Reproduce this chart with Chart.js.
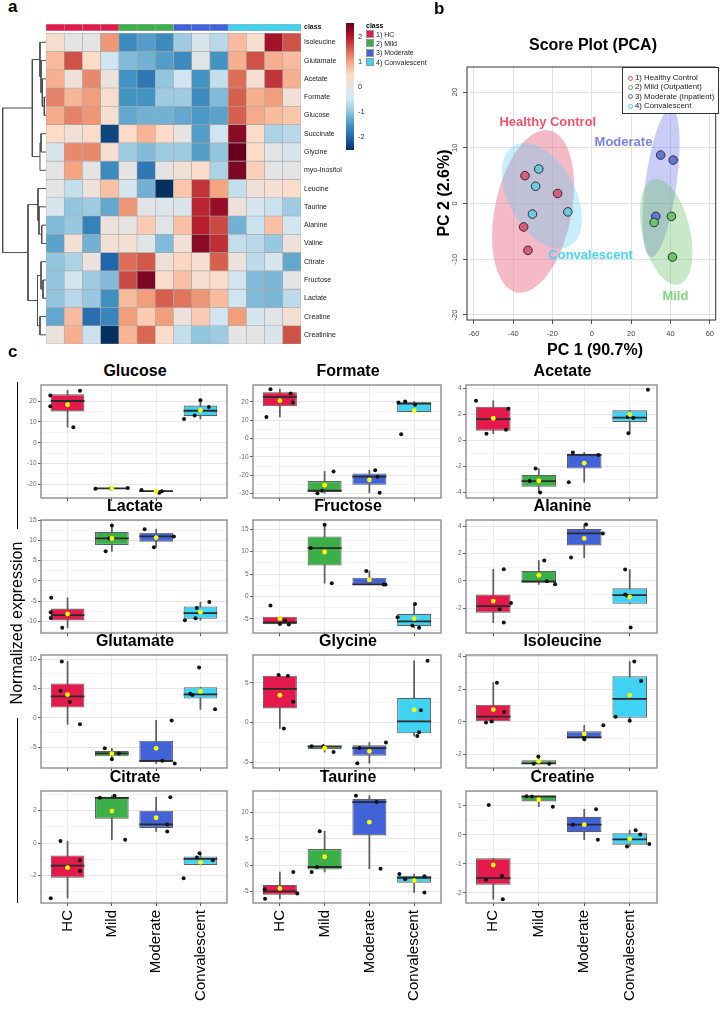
<!DOCTYPE html>
<html lang="en">
<head>
<meta charset="UTF-8">
<title>Metabolite profiles</title>
<script src="https://cdn.jsdelivr.net/npm/chart.js"></script>
<style>
  body { margin: 0; background: #fff; font-family: "Liberation Sans", Arial, sans-serif; }
  #page { position: relative; width: 721px; height: 1009px; overflow: hidden; background: #fff; }
  canvas { position: absolute; }
  .txt { position: absolute; white-space: nowrap; color: #000; }
  .panelTitle { position: absolute; width: 200px; text-align: center; font-weight: bold; font-size: 16px; line-height: 16px; }
  .sw { position: absolute; width: 8px; height: 8px; box-sizing: border-box; border: 1px solid #9a9a9a; }
  .dot { position: absolute; width: 5px; height: 5px; box-sizing: border-box; border-radius: 50%; border: 1px solid; }
</style>
</head>
<body>
<div id="page"></div>

<script>
// ---------- heatmap (a) ----------
const heatRows = ['Isoleucine', 'Glutamate', 'Acetate', 'Formate', 'Glucose', 'Succinate', 'Glycine',
  'myo-Inositol', 'Leucine', 'Taurine', 'Alanine', 'Valine', 'Citrate', 'Fructose', 'Lactate', 'Creatine', 'Creatinine'];
// class of every sample column: 0 HC, 1 Mild, 2 Moderate, 3 Convalescent
const heatClass = [0, 0, 0, 0, 1, 1, 1, 2, 2, 2, 3, 3, 3, 3];
const heatValues = [
  [0.4, 0, 0, 1.1, -1.6, -1.4, -1.6, -0.9, -0.3, -0.7, 0.8, 0.35, 2.1, 1.6],
  [0.8, 1.6, 0.5, -0.5, -1.1, -1.2, -1.4, -1.6, -0.1, -1.5, 0.9, 1.6, 0.9, 0.8],
  [0.9, 0.2, 1.2, 0.15, -1.5, -1.8, -1.0, -0.5, -1.5, -0.6, 1.4, 0.35, 1.8, 0.9],
  [1.25, 0.85, 1.05, 0.4, -1.5, -1.5, -0.9, -0.9, -1.6, -1.1, 1.5, 0.9, 1.05, 0.25],
  [0.95, 1.25, 1.1, 0.35, -1.3, -1.2, -1.2, -1.3, -1.45, -1.35, 1.5, 0.95, 0.8, 0.7],
  [0.5, 0.25, 0.45, -2.3, 0.5, 0.85, 0.5, 0.05, -1.4, -0.5, 2.3, 0.45, -0.8, -0.7],
  [-0.3, 1.2, 1.2, 0.35, -0.9, -1.1, -0.9, -0.9, -1.4, -1.0, 2.55, 0.5, -0.1, -0.35],
  [0, 1.0, 0, -1.6, 0, -1.8, 0, 0.25, 0.45, -0.8, 2.4, 0.6, 0, 0],
  [0, -0.6, 0.15, 0.75, -0.35, -1.2, -2.5, 0.7, 1.8, 1.0, -0.6, 0.2, 0.3, 0.4],
  [-0.3, -1.0, -0.9, -1.3, 1.1, 0, -0.25, -0.3, 1.9, 2.2, 0.15, -0.35, -0.55, -0.9],
  [-1.1, -0.95, -1.7, 0.15, 0.05, 0.65, -0.1, 0.75, 1.95, 1.65, -1.2, -0.55, 0.75, -0.45],
  [-1.35, 0.3, -1.2, 0.3, 0.3, -0.1, -1.1, 0.25, 2.3, 1.85, -0.6, -0.7, -0.95, 0.15],
  [-1.0, -0.8, 0.15, -2.0, 1.4, 1.55, 0.2, 0.55, 0.35, 1.5, 0.15, -0.65, -0.35, -1.3],
  [-1.0, -0.45, -0.9, -1.1, 1.65, 2.4, 0.45, 0.75, 0.35, 0.4, -0.45, -1.1, -1.15, -0.05],
  [-1.0, -0.7, -0.95, -1.55, 0.8, 1.05, 1.5, 1.35, 1.1, 0.8, -0.5, -1.1, -1.15, -0.65],
  [-1.3, 0.8, -1.9, -1.65, 1.05, 0.65, 1.05, 0.15, 0.65, -0.5, 1.05, -0.45, -0.1, 0.3],
  [0.15, 0.9, -0.55, -2.5, 0.85, 1.45, 0.45, -0.6, -1.0, -0.9, 0, 0, -0.3, 1.6]
];
// row clustering, hclust style: negative = row number, positive = earlier merge
const dendroMerges = [
  [-4, -5, 0.39], [-3, 1, 0.85], [-2, 2, 1.15], [-1, 3, 1.39], [-6, -7, 1.15], [-8, 5, 1.39],
  [4, 6, 3.16], [-11, -12, 0.99], [-10, 8, 1.62], [-9, 9, 1.85], [-14, -15, 0.69], [-13, 11, 1.15],
  [-16, -17, 1.39], [12, 13, 1.96], [10, 14, 4.16], [7, 15, 10]
];
const colourStops = [[-2.5, '#053061'], [-2, '#2166AC'], [-1.5, '#4393C3'], [-1, '#92C5DE'], [-0.5, '#D1E5F0'],
  [0, '#E4E4E4'], [0.5, '#FDDBC7'], [1, '#F4A582'], [1.5, '#D6604D'], [2, '#B2182B'], [2.55, '#67001F']];
const colourTicks = [-2, -1, 0, 1, 2];

// ---------- PCA score plot (b) ----------
const pcaNames = ['1) Healthy Control', '2) Mild (Outpatient)', '3) Moderate (Inpatient)', '4) Convalescent'];
const pcaHC = [[-34, 5.0], [-17.4, 1.8], [-34.7, -4.2], [-32.5, -8.4]];
const pcaMild = [[40.5, -2.3], [31.7, -3.4], [41, -9.6]];
const pcaModerate = [[35, 8.7], [41.4, 7.8], [32.5, -2.3]];
const pcaConv = [[-27, 6.2], [-28.6, 3.1], [-30.2, -1.9], [-12.2, -1.5]];
// ellipses: centre, conjugate half-diameters (score units)
const pcaEllipses = [
  { c: [-29.9, -1.4], u: [6.5, 14.6], v: [19.8, 0], fill: 'rgba(235,110,140,0.48)' },
  { c: [-25.4, 1.4], u: [-8.8, 9.5], v: [18.4, 0], fill: 'rgba(100,208,240,0.36)' },
  { c: [35.2, 3.75], u: [5.0, 13.4], v: [8.0, 0], fill: 'rgba(110,120,235,0.38)' },
  { c: [37.8, -5.1], u: [-5.0, 9.5], v: [12.4, 0], fill: 'rgba(110,195,110,0.38)' }
];
const pcaTags = [
  { text: 'Healthy Control', at: [-22.4, 14.5], color: '#F4546C' },
  { text: 'Moderate', at: [16.1, 10.9], color: '#7B7FF2' },
  { text: 'Convalescent', at: [-0.65, -9.4], color: '#48D4F2' },
  { text: 'Mild', at: [42.5, -16.6], color: '#7DD67D' }
];
const pcaXTicks = [-60, -40, -20, 0, 20, 40, 60];
const pcaYTicks = [-20, -10, 0, 10, 20];

// ---------- box plots (c) ----------
const groupNames = ['HC', 'Mild', 'Moderate', 'Convalescent'];
const groupColors = ['#E31A4B', '#3CAF49', '#4162D8', '#3FD2F2'];
const boxTitles = ['Glucose', 'Formate', 'Acetate', 'Lactate', 'Fructose', 'Alanine',
  'Glutamate', 'Glycine', 'Isoleucine', 'Citrate', 'Taurine', 'Creatine'];
const whiskerLow = [
  [7.5, -22.2, -24.1, 11.4], [11.8, -29.8, -29.6, 14.4], [0.5, -4.03, -3.23, 0.53],
  [-11.6, 7.3, 8.3, -9.76], [-6.25, 2.97, 2.68, -7.0], [-3.06, -0.26, 1.7, -1.68],
  [-1.1, -7.05, -7.78, 1.44], [-0.73, -3.7, -5.1, -1.68], [-0.04, -2.58, -1.08, 0.06],
  [-3.4, 0.2, 0.71, -1.35], [-6.4, -1.3, -0.7, -5.2], [-2.22, 0.97, -0.17, -0.4]
];
const boxQ1 = [
  [15.1, -22.1, -23.6, 12.8], [17.6, -29.1, -25.2, 14.4], [0.73, -3.59, -2.18, 1.41],
  [-9.8, 8.9, 9.65, -9.4], [-6.2, 6.9, 2.68, -6.63], [-2.33, -0.15, 2.59, -1.68],
  [1.75, -6.55, -7.56, 3.29], [1.79, -3.34, -4.15, -1.34], [0.0, -2.58, -1.02, 0.24],
  [-2.14, 1.5, 0.93, -1.35], [-5.65, -0.83, 5.65, -3.33], [-1.72, 1.15, 0.09, -0.34]
];
const boxMedian = [
  [20.1, -22.0, -23.3, 15.4], [22.7, -28.4, -20.8, 19.0], [1.62, -3.15, -1.13, 1.74],
  [-8.48, 10.5, 11.0, -7.99], [-5.78, 10.8, 2.68, -5.57], [-1.85, -0.04, 3.47, -1.05],
  [3.65, -6.06, -7.33, 4.0], [4.25, -2.97, -3.2, 0.17], [0.31, -2.56, -0.96, 1.4],
  [-1.4, 2.79, 1.15, -0.98], [-5.0, -0.35, 12.0, -2.4], [-1.49, 1.32, 0.35, -0.16]
];
const boxQ3 = [
  [23.3, -21.9, -23.0, 17.9], [25.3, -23.2, -19.05, 19.75], [2.58, -2.67, -1.04, 2.3],
  [-6.86, 12.1, 11.9, -6.34], [-4.54, 13.4, 4.19, -3.89], [-1.0, 0.72, 3.8, -0.55],
  [5.85, -5.63, -3.89, 5.21], [5.9, -2.97, -2.85, 3.12], [1.05, -2.36, -0.59, 2.8],
  [-0.77, 2.85, 1.99, -0.83], [-3.78, 3.05, 12.6, -2.0], [-0.81, 1.33, 0.62, 0.05]
];
const whiskerHigh = [
  [25.2, -21.8, -22.7, 20.5], [26.9, -17.9, -17.3, 20.2], [3.03, -2.18, -0.95, 2.3],
  [-4.2, 13.7, 12.8, -5.26], [-4.54, 16.0, 5.7, -1.68], [0.84, 1.49, 4.12, 0.82],
  [9.6, -5.2, -0.45, 5.21], [6.0, -2.97, -2.5, 7.78], [2.4, -2.14, -0.22, 3.7],
  [0.12, 2.91, 2.83, -0.63], [-1.3, 6.45, 13.2, -1.7], [-0.81, 1.33, 0.88, 0.16]
];
const groupMean = [
  [18.3, -22.0, -23.4, 15.6], [20.7, -25.4, -22.6, 15.2], [1.69, -3.12, -1.77, 1.97],
  [-8.19, 10.5, 10.7, -7.75], [-4.96, 9.92, 3.69, -4.95], [-1.48, 0.4, 3.1, -1.18],
  [3.95, -6.1, -5.19, 4.5], [3.44, -3.21, -3.6, 1.61], [0.75, -2.43, -0.75, 1.64],
  [-1.52, 1.97, 1.56, -1.19], [-4.43, 1.6, 8.17, -2.93], [-1.04, 1.21, 0.35, -0.14]
];
// sample points: [horizontal jitter in group widths, value]
const samplePoints = [
  [[[-0.39, 22.8], [-0.39, 17.6], [0.28, 25.0], [0.13, 7.5]], [[-0.37, -22.1], [0.36, -21.8], [-0.02, -22.0]],
   [[-0.33, -22.7], [0.07, -24.1], [0.13, -23.4]], [[-0.37, 11.4], [-0.13, 13.1], [0.0, 20.5], [0.19, 17.2]]],
  [[[-0.21, 26.9], [-0.30, 11.8], [0.24, 24.5], [0.29, 19.6]], [[-0.16, -29.8], [-0.06, -28.4], [0.2, -17.9]],
   [[0.13, -17.3], [0.18, -20.8], [0.23, -29.6]], [[-0.35, 19.6], [-0.2, 20.2], [0.02, 18.4], [-0.29, 2.4]]],
  [[[-0.38, 3.03], [0.33, 2.43], [-0.15, 0.5], [0.28, 0.8]], [[-0.07, -2.18], [-0.2, -3.15], [0.03, -4.03]],
   [[-0.25, -0.95], [0.31, -1.13], [-0.34, -3.23]], [[-0.04, 1.78], [0.08, 1.7], [-0.03, 0.53], [0.4, 3.88]]],
  [[[-0.37, -4.2], [-0.38, -7.75], [-0.38, -9.2], [-0.12, -11.6]], [[0.0, 13.7], [-0.14, 7.3], [-0.06, 10.5]],
   [[-0.26, 12.8], [-0.05, 8.3], [0.4, 11.0]], [[-0.35, -9.76], [-0.08, -6.7], [-0.11, -9.28], [0.2, -5.26]]],
  [[[-0.21, -2.05], [0.0, -6.18], [0.12, -5.37], [0.2, -6.25]], [[0.0, 16.0], [-0.31, 10.8], [0.16, 2.97]],
   [[-0.07, 5.7], [0.32, 2.68], [0.36, 2.68]], [[0.02, -1.68], [-0.37, -4.63], [-0.04, -6.5], [0.11, -7.0]]],
  [[[0.23, 0.84], [0.39, -1.62], [0.14, -2.08], [0.23, -3.06]], [[0.12, 1.49], [0.18, -0.04], [0.36, -0.26]],
   [[0.04, 4.12], [0.41, 3.47], [-0.29, 1.7]], [[-0.1, 0.82], [-0.1, -1.0], [-0.05, -1.1], [0.02, -3.42]]],
  [[[-0.13, 9.6], [-0.16, 4.6], [0.05, 2.7], [0.28, -1.1]], [[-0.16, -5.2], [0.16, -6.06], [0.0, -7.05]],
   [[0.35, -0.45], [0.14, -7.33], [0.42, -7.78]], [[-0.23, 4.1], [-0.18, 3.9], [-0.03, 8.55], [0.33, 1.44]]],
  [[[-0.03, 6.0], [0.18, 5.87], [0.3, 2.63], [0.09, -0.73]], [[-0.29, -2.97], [-0.03, -2.97], [0.2, -3.7]],
   [[0.37, -2.5], [-0.22, -3.2], [-0.27, -5.1]], [[0.3, 7.78], [0.15, 1.56], [0.11, -1.22], [0.07, -1.68]]],
  [[[0.08, 2.4], [0.24, 0.6], [-0.04, 0.02], [-0.16, -0.04]], [[-0.01, -2.14], [-0.11, -2.58], [0.23, -2.58]],
   [[0.42, -0.22], [0.0, -0.96], [0.0, -1.08]], [[0.1, 3.7], [0.25, 2.5], [-0.31, 0.3], [0.0, 0.06]]],
  [[[-0.16, 0.12], [0.28, -1.07], [0.28, -1.72], [-0.38, -3.4]], [[-0.27, 2.79], [0.06, 2.91], [0.3, 0.2]],
   [[0.32, 2.83], [0.25, 1.15], [0.25, 0.71]], [[-0.02, -0.63], [-0.08, -0.89], [0.28, -1.07], [-0.38, -2.18]]],
  [[[-0.34, -4.6], [-0.33, -6.4], [0.39, -5.4], [0.3, -1.3]], [[-0.11, 6.45], [-0.17, -0.35], [-0.29, -1.3]],
   [[-0.3, 13.2], [0.16, 12.0], [0.25, -0.7]], [[-0.33, -1.7], [-0.2, -2.7], [0.23, -2.1], [0.23, -5.2]]],
  [[[-0.1, 1.03], [-0.16, -1.55], [0.19, -1.42], [0.21, -2.22]], [[-0.27, 1.33], [-0.15, 1.32], [0.31, 0.97]],
   [[0.26, 0.88], [-0.25, 0.35], [0.3, -0.17]], [[0.13, 0.16], [0.23, 0.01], [0.43, -0.32], [-0.06, -0.4]]]
];
const yLimits = [[-26.6, 27.8], [-32.4, 29.2], [-4.45, 4.25], [-12.9, 15.06], [-8.17, 17.07], [-3.82, 4.45],
  [-8.55, 10.7], [-5.7, 8.5], [-2.84, 4.1], [-3.7, 3.21], [-7.2, 14.1], [-2.35, 1.51]];
const yMajor = [10, 10, 2, 5, 5, 2, 5, 5, 2, 2, 5, 1];

// ---------- layout ----------
const FONT = '"Liberation Sans", Arial, sans-serif';
const panelColLeft = [41, 253, 466];
const panelColWidth = [188, 190, 193];
const panelRowTop = [382, 517, 652, 788];
const panelRowHeight = [116, 116, 116, 115];
const boxWidthFrac = 0.76;

Chart.defaults.font.family = FONT;
Chart.defaults.animation = false;
Chart.defaults.responsive = false;
Chart.defaults.events = [];
Chart.defaults.plugins.legend.display = false;
Chart.defaults.plugins.tooltip.enabled = false;

const page = document.getElementById('page');

function makeCanvas(left, top, width, height) {
  const c = document.createElement('canvas');
  c.width = width;
  c.height = height;
  c.style.left = left + 'px';
  c.style.top = top + 'px';
  c.style.width = width + 'px';
  c.style.height = height + 'px';
  page.appendChild(c);
  return c;
}

function addText(text, left, top, css) {
  const d = document.createElement('div');
  d.className = 'txt';
  d.textContent = text;
  d.style.left = left + 'px';
  d.style.top = top + 'px';
  Object.assign(d.style, css || {});
  page.appendChild(d);
  return d;
}

function hexToRgb(h) {
  return [parseInt(h.slice(1, 3), 16), parseInt(h.slice(3, 5), 16), parseInt(h.slice(5, 7), 16)];
}

function heatColor(v) {
  if (v <= colourStops[0][0]) return colourStops[0][1];
  for (let i = 1; i < colourStops.length; i++) {
    if (v <= colourStops[i][0]) {
      const [v0, c0] = colourStops[i - 1], [v1, c1] = colourStops[i];
      const t = (v - v0) / (v1 - v0);
      const a = hexToRgb(c0), b = hexToRgb(c1);
      return 'rgb(' + a.map((x, k) => Math.round(x + (b[k] - x) * t)).join(',') + ')';
    }
  }
  return colourStops[colourStops.length - 1][1];
}

const frame = (color, width) => ({
  id: 'frame',
  afterDraw(chart) {
    const a = chart.chartArea, c = chart.ctx;
    c.save();
    c.strokeStyle = color;
    c.lineWidth = width;
    c.strokeRect(a.left, a.top, a.right - a.left, a.bottom - a.top);
    c.restore();
  }
});

function noPad(ax) {
  ax.paddingTop = 0; ax.paddingBottom = 0; ax.paddingLeft = 0; ax.paddingRight = 0;
}

// ---------- a: dendrogram ----------
function dendroSegments() {
  const pos = [], hgt = [];
  const nodeY = id => id < 0 ? (-id - 1) + 0.5 : pos[id - 1];
  const nodeH = id => id < 0 ? 0 : hgt[id - 1];
  return dendroMerges.map(([a, b, h], i) => {
    const ya = nodeY(a), yb = nodeY(b);
    pos[i] = (ya + yb) / 2;
    hgt[i] = h;
    return [{ x: nodeH(a), y: ya }, { x: h, y: ya }, { x: h, y: yb }, { x: nodeH(b), y: yb }];
  });
}

new Chart(makeCanvas(0, 24, 46, 320), {
  type: 'scatter',
  data: {
    datasets: dendroSegments().map(seg => ({
      data: seg, showLine: true, borderColor: '#4d4d4d', borderWidth: 1, pointRadius: 0, clip: 2
    }))
  },
  options: {
    layout: { padding: 0 },
    scales: {
      x: { display: false, reverse: true, min: 0, max: 10.62 },
      y: { display: false, reverse: true, min: -0.5, max: 17 }
    }
  }
});

// ---------- a: heatmap ----------
const classBand = [-0.49, -0.13];
const heatLabels = {
  id: 'heatLabels',
  afterDraw(chart) {
    const { ctx, chartArea, scales } = chart;
    ctx.save();
    ctx.fillStyle = '#1a1a1a';
    ctx.textBaseline = 'middle';
    ctx.font = 'bold 7px ' + FONT;
    ctx.fillText('class', chartArea.right + 3, scales.y.getPixelForValue((classBand[0] + classBand[1]) / 2));
    ctx.font = '7px ' + FONT;
    heatRows.forEach((name, r) => ctx.fillText(name, chartArea.right + 3, scales.y.getPixelForValue(r + 0.5)));
    ctx.restore();
  }
};

new Chart(makeCanvas(46, 24, 300, 320), {
  type: 'bar',
  data: {
    labels: heatClass.map((g, i) => 'S' + (i + 1)),
    datasets: [{
      data: heatClass.map(() => classBand),
      backgroundColor: heatClass.map(g => groupColors[g])
    }].concat(heatValues.map((row, r) => ({
      data: row.map(() => [r, r + 1]),
      backgroundColor: row.map(heatColor)
    })))
  },
  options: {
    layout: { padding: { left: 0, top: 0, bottom: 0, right: 45 } },
    datasets: {
      bar: { grouped: false, barPercentage: 1, categoryPercentage: 1, borderColor: '#A8A8A8', borderWidth: 0.6, borderSkipped: false }
    },
    scales: {
      x: { display: false },
      y: { display: false, reverse: true, min: -0.5, max: 17 }
    }
  },
  plugins: [heatLabels]
});

// ---------- a: colour key ----------
new Chart(makeCanvas(346, 23, 26, 127), {
  type: 'bar',
  data: {
    labels: ['key'],
    datasets: [{
      data: [[colourStops[0][0], colourStops[colourStops.length - 1][0]]],
      backgroundColor: ctx => {
        const chart = ctx.chart;
        if (!chart.chartArea) return null;
        const ys = chart.scales.y;
        const lo = colourStops[0][0], hi = colourStops[colourStops.length - 1][0];
        const g = chart.ctx.createLinearGradient(0, ys.getPixelForValue(lo), 0, ys.getPixelForValue(hi));
        colourStops.forEach(([v, c]) => g.addColorStop((v - lo) / (hi - lo), c));
        return g;
      },
      barPercentage: 1, categoryPercentage: 1, borderWidth: 0
    }]
  },
  options: {
    layout: { padding: 0 },
    scales: {
      x: { display: false },
      y: {
        position: 'right', min: -2.5, max: 2.55,
        afterBuildTicks: ax => { ax.ticks = colourTicks.map(v => ({ value: v })); },
        afterFit: ax => { ax.width = 18; noPad(ax); },
        grid: { display: false, drawTicks: false },
        border: { display: false },
        ticks: { padding: 4, color: '#333', font: { size: 7.5 } }
      }
    }
  }
});

// class legend
addText('class', 366, 21, { fontSize: '7px', fontWeight: 'bold', lineHeight: '9px' });
['1) HC', '2) Mild', '3) Moderate', '4) Convalescent'].forEach((name, i) => {
  const top = 30 + i * 9.4;
  const s = document.createElement('div');
  s.className = 'sw';
  s.style.left = '366px';
  s.style.top = top + 'px';
  s.style.background = groupColors[i];
  page.appendChild(s);
  addText(name, 376, top - 0.5, { fontSize: '7px', lineHeight: '9px', color: '#222' });
});

// ---------- b: PCA ----------
const pcaFill = ['#D95B7F', '#6CC36C', '#6277DB', '#6DC9DF'];
const pcaStroke = ['#E0506A', '#5CB85C', '#5A6FD8', '#4FD0E8'];

const ellipsePlugin = {
  id: 'ellipses',
  beforeDatasetsDraw(chart) {
    const { ctx, chartArea: a, scales: { x: xs, y: ys } } = chart;
    ctx.save();
    ctx.beginPath();
    ctx.rect(a.left, a.top, a.right - a.left, a.bottom - a.top);
    ctx.clip();
    pcaEllipses.forEach(e => {
      const px = xs.getPixelForValue(e.c[0]), py = ys.getPixelForValue(e.c[1]);
      const ux = xs.getPixelForValue(e.c[0] + e.u[0]) - px, uy = ys.getPixelForValue(e.c[1] + e.u[1]) - py;
      const vx = xs.getPixelForValue(e.c[0] + e.v[0]) - px, vy = ys.getPixelForValue(e.c[1] + e.v[1]) - py;
      ctx.save();
      ctx.transform(vx, vy, ux, uy, px, py);
      ctx.beginPath();
      ctx.arc(0, 0, 1, 0, Math.PI * 2);
      ctx.restore();
      ctx.fillStyle = e.fill;
      ctx.fill();
    });
    ctx.restore();
  }
};

const pcaTagPlugin = {
  id: 'pcaTags',
  afterDatasetsDraw(chart) {
    const { ctx, scales: { x: xs, y: ys } } = chart;
    ctx.save();
    ctx.font = 'bold 13px ' + FONT;
    ctx.textAlign = 'center';
    ctx.textBaseline = 'middle';
    pcaTags.forEach(t => {
      ctx.fillStyle = t.color;
      ctx.fillText(t.text, xs.getPixelForValue(t.at[0]), ys.getPixelForValue(t.at[1]));
    });
    ctx.restore();
  }
};

new Chart(makeCanvas(440, 60, 281, 295), {
  type: 'scatter',
  data: {
    datasets: [pcaHC, pcaMild, pcaModerate, pcaConv].map((pts, g) => ({
      data: pts.map(p => ({ x: p[0], y: p[1] })),
      pointBackgroundColor: pcaFill[g], pointBorderColor: '#2b2b2b', pointBorderWidth: 1, pointRadius: 4.3
    }))
  },
  options: {
    layout: { padding: { top: 7, right: 2, left: 0, bottom: 0 } },
    scales: {
      x: {
        min: -63.5, max: 63,
        afterBuildTicks: ax => { ax.ticks = pcaXTicks.map(v => ({ value: v })); },
        afterFit: ax => { ax.height = 35; noPad(ax); },
        grid: { color: '#e2e2e2', tickColor: '#555', tickLength: 4 },
        border: { display: false },
        ticks: { color: '#444', font: { size: 7.5 }, padding: 5, maxRotation: 0, autoSkip: false }
      },
      y: {
        min: -20.9, max: 24.5,
        afterBuildTicks: ax => { ax.ticks = pcaYTicks.map(v => ({ value: v })); },
        afterFit: ax => { ax.width = 27; noPad(ax); },
        grid: { color: '#e2e2e2', tickColor: '#555', tickLength: 4 },
        border: { display: false },
        ticks: { color: '#444', font: { size: 7.5 }, padding: 3, minRotation: 90, maxRotation: 90, crossAlign: 'center', autoSkip: false }
      }
    }
  },
  plugins: [ellipsePlugin, pcaTagPlugin, frame('#333', 1)]
});

// PCA legend
const leg = document.createElement('div');
Object.assign(leg.style, { position: 'absolute', left: '622px', top: '67px', width: '97px', height: '47px',
  border: '1px solid #333', background: '#fff', boxSizing: 'border-box' });
page.appendChild(leg);
pcaNames.forEach((name, i) => {
  const cy = 10 + i * 9.4;
  const d = document.createElement('div');
  d.className = 'dot';
  d.style.left = '4.5px';
  d.style.top = (cy - 2.5) + 'px';
  d.style.borderColor = pcaStroke[i];
  leg.appendChild(d);
  const t = document.createElement('div');
  t.className = 'txt';
  t.textContent = name;
  Object.assign(t.style, { left: '12px', top: (cy - 5) + 'px', fontSize: '7.8px', lineHeight: '10px', color: '#222' });
  leg.appendChild(t);
});

addText('Score Plot (PCA)', 493, 37, { width: '200px', textAlign: 'center', fontWeight: 'bold', fontSize: '16px', lineHeight: '16px' });
addText('PC 1 (90.7%)', 495, 342, { width: '200px', textAlign: 'center', fontWeight: 'bold', fontSize: '16px', lineHeight: '16px' });
addText('PC 2 (2.6%)', 344, 185, { width: '200px', textAlign: 'center', fontWeight: 'bold', fontSize: '16px', lineHeight: '16px', transform: 'rotate(-90deg)' });

// ---------- c: box plots ----------
function halfBox(chart) {
  const s = chart.scales.x;
  return s.getPixelForValue(1 + boxWidthFrac / 2) - s.getPixelForValue(1);
}

function boxPanel(k) {
  const col = k % 3, row = Math.floor(k / 3);
  const bottomRow = row === panelRowTop.length - 1;
  const axisH = bottomRow ? 106 : 5;
  const canvas = makeCanvas(panelColLeft[col] - 26, panelRowTop[row] - 1,
    panelColWidth[col] + 28, panelRowHeight[row] + 1 + axisH);
  const [yMin, yMax] = yLimits[k];
  const major = yMajor[k], half = major / 2;
  const isMajor = v => Math.abs(v / major - Math.round(v / major)) < 1e-6;
  const xs = groupNames.map((g, i) => i + 1);

  new Chart(canvas, {
    type: 'bar',
    data: {
      datasets: [
        { type: 'bar', order: 6, data: xs.map((x, i) => ({ x, y: [whiskerLow[k][i], whiskerHigh[k][i]] })),
          backgroundColor: '#5f5f5f', barThickness: 1.1 },
        { type: 'bar', order: 5, data: xs.map((x, i) => ({ x, y: [boxQ1[k][i], boxQ3[k][i]] })),
          backgroundColor: groupColors, borderColor: '#5f5f5f', borderWidth: 1.1, borderSkipped: false,
          barPercentage: boxWidthFrac, categoryPercentage: 1 },
        { type: 'scatter', order: 4, data: xs.map((x, i) => ({ x, y: boxMedian[k][i] })),
          pointStyle: 'line', pointBorderColor: '#2a2a2a', pointBorderWidth: 1.8, pointRadius: ctx => halfBox(ctx.chart) },
        { type: 'scatter', order: 3,
          data: samplePoints[k].flatMap((pts, i) => pts.map(p => ({ x: i + 1 + p[0], y: p[1] }))),
          pointBackgroundColor: '#111', pointBorderWidth: 0, pointRadius: 2 },
        { type: 'scatter', order: 2, data: xs.map((x, i) => ({ x, y: groupMean[k][i] })),
          pointBackgroundColor: '#FFFF00', pointBorderWidth: 0, pointRadius: 2.4 }
      ]
    },
    options: {
      layout: { padding: { top: 1, right: 2, left: 0, bottom: 0 } },
      datasets: { bar: { grouped: false } },
      scales: {
        x: {
          type: 'linear', min: 0.4, max: 4.6, offset: false,
          afterBuildTicks: ax => { ax.ticks = xs.map(v => ({ value: v })); },
          afterFit: ax => { ax.height = axisH; noPad(ax); },
          grid: { offset: false, color: '#ebebeb', tickColor: '#555', tickLength: 3 },
          border: { display: false },
          ticks: {
            display: bottomRow, autoSkip: false, minRotation: 90, maxRotation: 90, padding: 4,
            color: '#000', font: { size: 15 }, callback: v => groupNames[Math.round(v) - 1]
          }
        },
        y: {
          min: yMin, max: yMax,
          afterBuildTicks: ax => {
            const t = [];
            for (let v = Math.ceil(yMin / half) * half; v <= yMax + 1e-9; v += half) t.push({ value: +v.toFixed(6) });
            ax.ticks = t;
          },
          afterFit: ax => { ax.width = 26; noPad(ax); },
          grid: {
            color: c => isMajor(c.tick.value) ? '#e6e6e6' : '#f4f4f4',
            tickColor: c => isMajor(c.tick.value) ? '#666' : 'rgba(0,0,0,0)',
            tickLength: 3
          },
          border: { display: false },
          ticks: { autoSkip: false, padding: 1.5, color: '#6a6a6a', font: { size: 6.5 },
            callback: v => isMajor(v) ? String(Math.round(v)) : '' }
        }
      }
    },
    plugins: [frame('#7a7a7a', 1.2)]
  });

  const titleCenterY = panelRowTop[row] - 11;
  const t = document.createElement('div');
  t.className = 'panelTitle';
  t.textContent = boxTitles[k];
  t.style.left = (panelColLeft[col] + panelColWidth[col] / 2 - 100) + 'px';
  t.style.top = (titleCenterY - 7.8) + 'px';
  page.appendChild(t);
}

boxTitles.forEach((name, k) => boxPanel(k));

// ---------- panel letters, side label ----------
addText('a', 8, -2.4, { fontWeight: 'bold', fontSize: '17px', lineHeight: '17px' });
addText('b', 434, -0.4, { fontWeight: 'bold', fontSize: '17px', lineHeight: '17px' });
addText('c', 8, 342.6, { fontWeight: 'bold', fontSize: '17px', lineHeight: '17px' });

function vline(x, y0, y1) {
  const d = document.createElement('div');
  Object.assign(d.style, { position: 'absolute', left: x + 'px', top: y0 + 'px', width: '1.3px', height: (y1 - y0) + 'px', background: '#000' });
  page.appendChild(d);
}
vline(16.5, 382, 529);
vline(16.5, 718, 903);
addText('Normalized expression', -83, 614, { width: '200px', textAlign: 'center', fontSize: '16px', lineHeight: '18px', transform: 'rotate(-90deg)' });
</script>
</body>
</html>
